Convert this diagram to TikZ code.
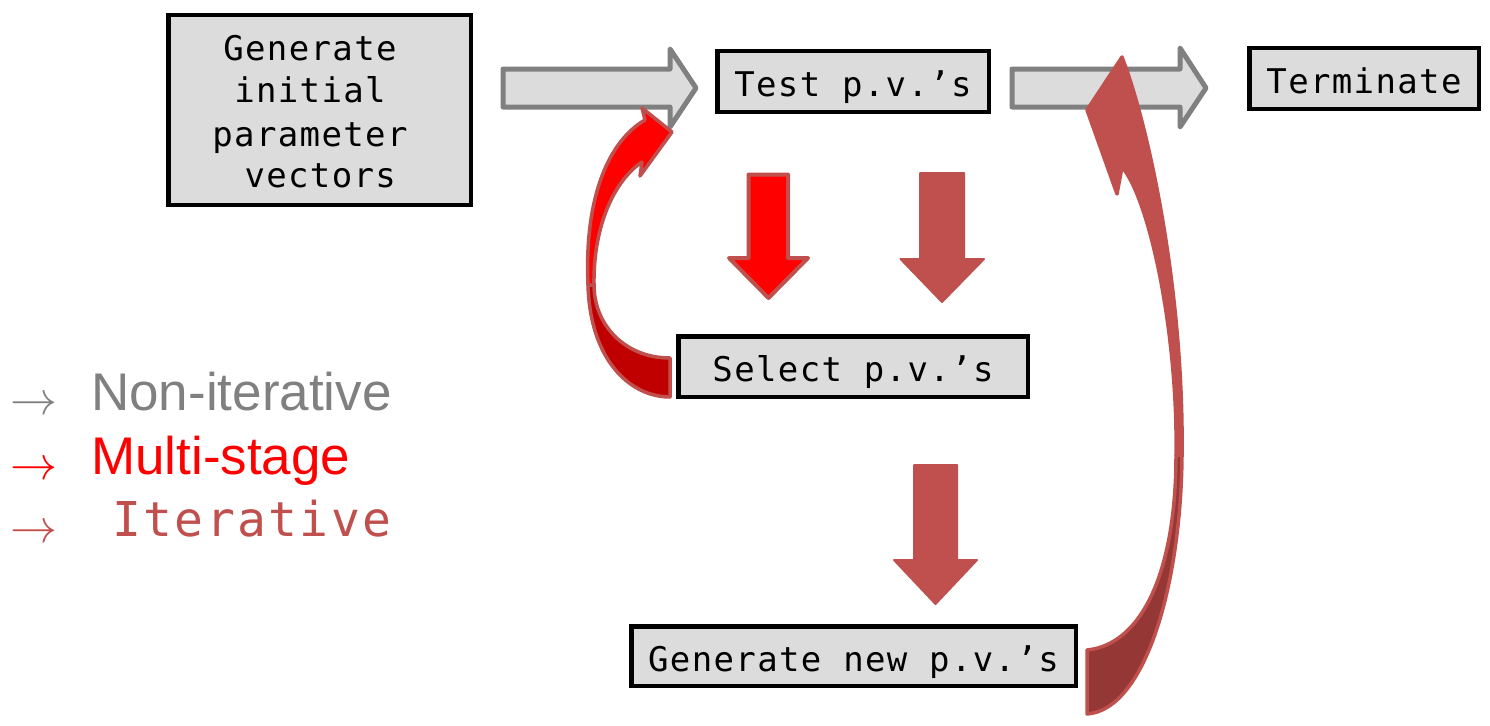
\documentclass[tikz,border=0pt]{standalone}
\usepackage{fix-cm}
\usepackage{fontspec}
\setmainfont{Liberation Sans}
\newfontfamily\boxmono[LetterSpace=4]{DejaVu Sans Mono}
\newfontfamily\legmono[LetterSpace=5]{DejaVu Sans Mono}
\definecolor{boxgray}{HTML}{DCDCDC}
\definecolor{arrgray}{HTML}{808080}
\definecolor{iterred}{HTML}{C0504D}
\definecolor{iterdark}{HTML}{953735}
\definecolor{multidark}{HTML}{C00000}
\definecolor{multired}{HTML}{FF0000}
\begin{document}
\begin{tikzpicture}[x=1pt,y=-1pt,
  stepbox/.style={draw=black, line width=4.5pt, fill=boxgray, inner sep=0pt,
    text height=30pt, text depth=0pt,
    font=\fontsize{34}{43}\selectfont\boxmono},
  linetext/.style={anchor=base, inner sep=0pt, font=\fontsize{34}{43}\selectfont\boxmono},
  grayarrow/.style={draw=arrgray, fill=boxgray, line width=5pt, line join=round},
  multiarrow/.style={draw=iterred, fill=multired, line width=4pt, line join=round},
  iterarrow/.style={draw=iterred, fill=iterred, line width=2pt, line join=round},
  curvepart/.style={draw=iterred, line width=3.5pt, line join=round},
  legtext/.style={anchor=base west, inner sep=0pt, font=\fontsize{53}{62}\selectfont},
  legarrow/.style={anchor=base west, inner sep=0pt, font=\fontsize{47}{56}\selectfont}
]
\useasboundingbox (0,0) rectangle (1490,725);

% boxes
\node[stepbox, minimum width=302.5pt, minimum height=189.5pt] (gen) at (319.5,110) {};
\node[linetext] (genl1) at (310,60) {Generate};
\node[linetext] (genl2) at (310,102) {initial};
\node[linetext] (genl3) at (310,146) {parameter};
\node[linetext] (genl4) at (310,187) {\phantom{v}vectors};
\node[stepbox, minimum width=271.5pt, minimum height=60.5pt] (test) at (853,81.5) {Test p.v.’s};
\node[stepbox, minimum width=229.5pt, minimum height=60.5pt] (term) at (1364,78.5) {Terminate};
\node[stepbox, minimum width=349.5pt, minimum height=60.5pt] (sel) at (853,366.5) {Select p.v.’s};
\node[stepbox, minimum width=444.5pt, minimum height=59.5pt] (gnew) at (853.5,656) {Generate new p.v.’s};

% non-iterative block arrows
\draw[grayarrow] (503,69) -- (670,69) -- (670,49) -- (696,88) -- (670,127) -- (670,107) -- (503,107) -- cycle;
\draw[grayarrow] (1012,69) -- (1180,69) -- (1180,48) -- (1206,88) -- (1180,127) -- (1180,107) -- (1012,107) -- cycle;

% down arrows
\draw[multiarrow] (748.5,174.5) -- (788,174.5) -- (788,258) -- (808,258) -- (768.5,298) -- (729,258) -- (748.5,258) -- cycle;
\draw[iterarrow] (920,173) -- (964,173) -- (964,259) -- (984,259) -- (942,302) -- (900.5,259) -- (920,259) -- cycle;
\draw[iterarrow] (914,465) -- (957,465) -- (957,560) -- (977,560) -- (935.5,604) -- (894,560) -- (914,560) -- cycle;

% multi-stage curved arrow (Select -> Test)
\draw[curvepart, fill=multidark] (588,285) .. controls (590,360) and (630,397) .. (670,397) -- (670,358) .. controls (625,358) and (594,325) .. (594,285) -- cycle;
\draw[curvepart, fill=multired] (588,285) .. controls (584,195) and (610,140) .. (645,120) -- (642,108) -- (672,132) -- (640,176) -- (642,162) .. controls (615,180) and (593,225) .. (594,285) -- cycle;

% iterative curved arrow (Generate new -> Test/Terminate)
\draw[curvepart, fill=iterdark] (1182,455) .. controls (1181,585) and (1145,710) .. (1087,714) -- (1087,650) .. controls (1140,645) and (1176,575) .. (1176,455) -- cycle;
\draw[curvepart, fill=iterred] (1122,57) .. controls (1150,130) and (1184,295) .. (1182,455) -- (1176,455) .. controls (1178,335) and (1150,200) .. (1122,167) -- (1117,194) -- (1087,110) -- cycle;

% legend
\node[legarrow, text=arrgray] (la1) at (10,414) {$\rightarrow$};
\node[legtext, text=arrgray] (lt1) at (91,410) {Non-iterative};
\node[legarrow, text=multired] (la2) at (10,479) {$\rightarrow$};
\node[legtext, text=multired] (lt2) at (91,474) {Multi-stage};
\node[legarrow, text=iterred] (la3) at (10,542) {$\rightarrow$};
\node[anchor=base west, inner sep=0pt, text=iterred, font=\fontsize{48}{56}\selectfont\legmono] (lt3) at (112,536) {Iterative};
\end{tikzpicture}
\end{document}
